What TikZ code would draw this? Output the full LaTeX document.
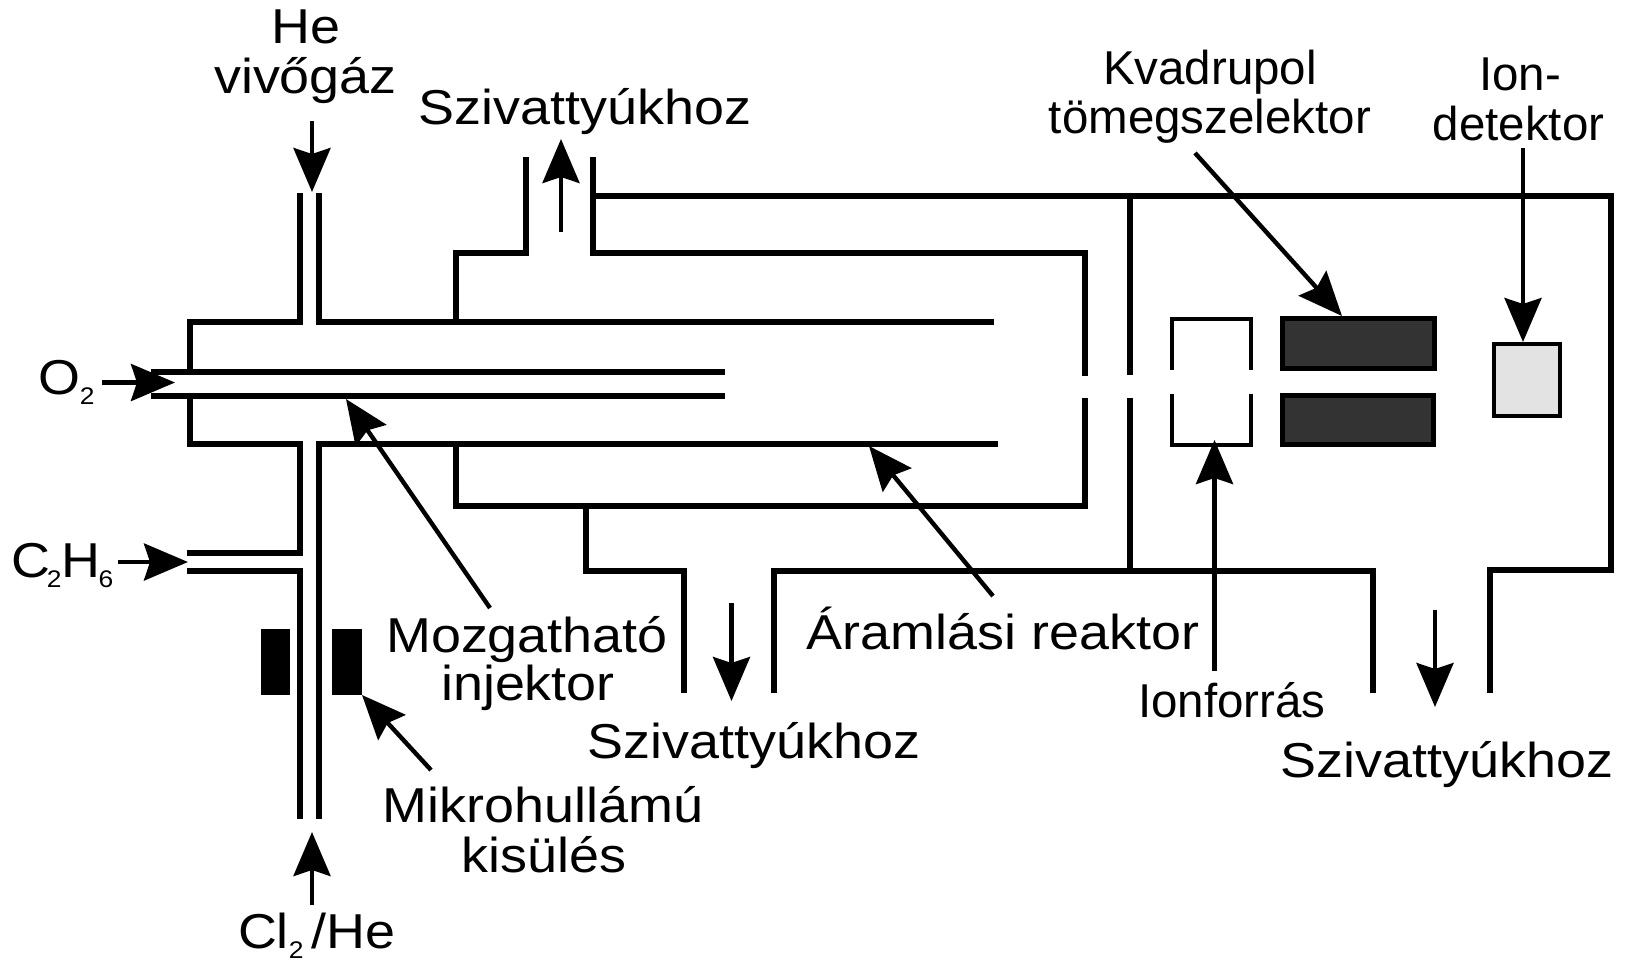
\documentclass[tikz,border=0pt]{standalone}
\usepackage{fontspec}
\setmainfont{Liberation Sans}
\newfontfamily\widefont[FakeStretch=1.1]{Liberation Sans}
\usetikzlibrary{arrows.meta}
\newcommand{\bigsz}{\widefont\fontsize{49}{52}\selectfont}
\newcommand{\smallsz}{\fontsize{47.5}{50}\selectfont}
\newcommand{\subsz}[1]{\raisebox{-10pt}{\fontsize{24}{26}\selectfont #1}}
\tikzset{
  x=1pt,y=-1pt,
  wall/.style={draw=black,line width=6pt,line cap=butt,line join=miter},
  thinwall/.style={draw=black,line width=4.2pt,line cap=butt,line join=miter},
  lab/.style={inner sep=0pt,outer sep=0pt,anchor=base,font=\bigsz},
  labs/.style={inner sep=0pt,outer sep=0pt,anchor=base,font=\smallsz},
  pointer/.style={draw=black,line width=4.4pt,-{Stealth[length=44pt,width=37pt,inset=6pt]}},
  quad/.style={draw=black,line width=5pt,fill=black!80},
  block/.style={fill=black,draw=none}
}
\begin{document}
\begin{tikzpicture}
\useasboundingbox (0,0) rectangle (1626,962);
% tubes
\draw[wall] (300,193) -- (300,322) -- (189.5,322) -- (189.5,370);
\draw[wall] (319,193) -- (319,322) -- (994,322);
\draw[wall] (189.5,396) -- (189.5,444) -- (300,444) -- (300,553) -- (187,553);
\draw[wall] (187,571) -- (300,571) -- (300,819);
\draw[wall] (319,819) -- (319,444) -- (998,444);
\draw[wall] (151,372) -- (725,372);
\draw[wall] (151,396) -- (725,396);
% reactor jacket
\draw[wall] (456,322) -- (456,253) -- (526,253) -- (526,157);
\draw[wall] (593,157) -- (593,253) -- (1085,253) -- (1085,376);
\draw[wall] (456,444) -- (456,506) -- (1085,506) -- (1085,398);
\draw[wall] (586,506) -- (586,571) -- (684,571) -- (684,692.5);
% outer chamber
\draw[wall] (593,196) -- (1611,196) -- (1611,570) -- (1490,570) -- (1490,692.5);
\draw[wall] (774,692.5) -- (774,571) -- (1373,571) -- (1373,692.5);
\draw[wall] (1130,196) -- (1130,375);
\draw[wall] (1130,398) -- (1130,571);
% ion source
\draw[thinwall] (1172,370) -- (1172,319) -- (1251,319) -- (1251,370);
\draw[thinwall] (1172,394) -- (1172,445) -- (1251,445) -- (1251,394);
% quadrupole, detector, discharge
\node[quad,inner sep=0pt,minimum width=152pt,minimum height=50pt] (q1) at (1358.5,343.5) {};
\node[quad,inner sep=0pt,minimum width=151pt,minimum height=49pt] (q2) at (1358,420) {};
\node[draw=black,line width=4.5pt,fill=black!11,inner sep=0pt,minimum width=66pt,minimum height=72pt] (det) at (1527,380) {};
\node[block,inner sep=0pt,minimum width=29pt,minimum height=66pt] (mw1) at (275.5,662) {};
\node[block,inner sep=0pt,minimum width=30pt,minimum height=66pt] (mw2) at (347,662) {};
% labels
\node[lab] (he) at (306,43) {He};
\node[lab] (viv) at (305.5,93) {vivőgáz};
\node[lab] (sz1) at (585,124) {Szivattyúkhoz};
\node[labs] (kv) at (1210,84) {Kvadrupol};
\node[labs] (tom) at (1210,133) {tömegszelektor};
\node[labs] (ion) at (1520,90) {Ion-};
\node[labs] (dete) at (1518.5,140) {detektor};
\node[lab,anchor=base west] (o2) at (38,394) {O\subsz{2}};
\node[lab,anchor=base west] (c2h6) at (11,577) {C\hspace{-3pt}\subsz{2}H\hspace{-2pt}\subsz{6}};
\node[lab,anchor=base west] (clhe) at (238,948) {Cl\subsz{2}\hspace{8pt}/He};
\node[lab] (moz) at (527,652) {Mozgatható};
\node[lab] (inj) at (528,700) {injektor};
\node[lab] (mik) at (543,822) {Mikrohullámú};
\node[lab] (kis) at (544,872) {kisülés};
\node[lab] (sz2) at (754,758) {Szivattyúkhoz};
\node[lab] (ara) at (1003,649) {Áramlási reaktor};
\node[labs] (ifo) at (1232,717) {Ionforrás};
\node[lab] (sz3) at (1447,777) {Szivattyúkhoz};
% pointer ends
\coordinate (a1s) at (312,121); \coordinate (a1e) at (312,192);
\coordinate (a2s) at (561,232); \coordinate (a2e) at (561,139);
\coordinate (a3s) at (102,382.5); \coordinate (a3e) at (175,382.5);
\coordinate (a4s) at (118,562); \coordinate (a4e) at (188,562);
\coordinate (a5s) at (312,905); \coordinate (a5e) at (312,832);
\coordinate (a6s) at (490,608); \coordinate (a6e) at (346,399);
\coordinate (a7s) at (431,770); \coordinate (a7e) at (362,695);
\coordinate (a8s) at (731.5,603); \coordinate (a8e) at (731.5,701);
\coordinate (a9s) at (1435,610); \coordinate (a9e) at (1435,707);
\coordinate (a10s) at (993,596); \coordinate (a10e) at (869,446);
\coordinate (a11s) at (1214.5,670.5); \coordinate (a11e) at (1214.5,440);
\coordinate (a12s) at (1195,153); \coordinate (a12e) at (1342,316);
\coordinate (a13s) at (1523,148); \coordinate (a13e) at (1523,342);
\foreach \i in {1,...,13} \draw[pointer] (a\i s) -- (a\i e);
\end{tikzpicture}
\end{document}
